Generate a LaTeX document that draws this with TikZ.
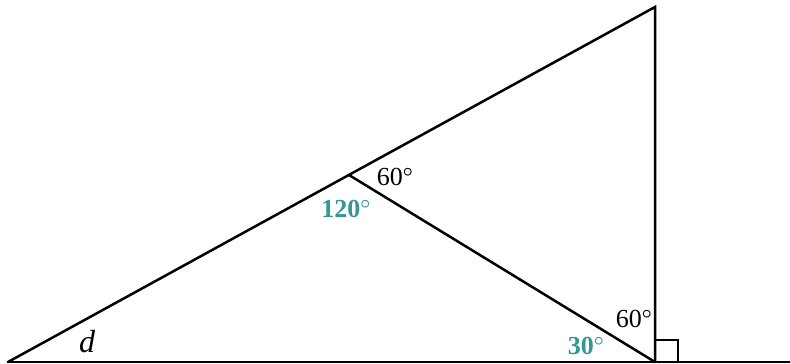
\documentclass[tikz,border=0pt]{standalone}
\usepackage{fontspec}
\setmainfont{Liberation Serif}
\usetikzlibrary{calc}
\definecolor{angleteal}{RGB}{52,150,150}
\newcommand{\degmark}{\textsuperscript{$\boldsymbol{\circ}$}}
\tikzset{
  edge/.style={line width=2.5pt, line cap=round, line join=miter},
  anglelbl/.style={font=\fontsize{26}{30}\selectfont, inner sep=0pt},
  keylbl/.style={anglelbl, font=\fontsize{26}{30}\selectfont\bfseries, text=angleteal}
}
\usepackage{amsmath}
\begin{document}
\begin{tikzpicture}[x=1pt, y=1pt]
  \useasboundingbox (0,0) rectangle (790,364);
  % corners of the figure
  \coordinate (lft) at (8,2);
  \coordinate (top) at (655,357);
  \coordinate (foot) at (655,2);
  \coordinate (mid) at (349,189);
  \coordinate (end) at (790,2);

  \draw[edge] (lft) -- (top) -- (foot);
  \draw[edge] (lft) -- (end);
  \draw[edge] (mid) -- (foot);
  \draw[line width=2.2pt] (foot) rectangle ++(23,22);

  \node[font=\fontsize{32}{36}\selectfont\itshape, inner sep=0pt] (dlbl) at (87,22) {d};
  \node[anglelbl] (topsixty) at (395,187) {60\degmark};
  \node[keylbl] (obtuse) at (346,155) {120\degmark};
  \node[keylbl] (thirty) at (586,18) {30\degmark};
  \node[anglelbl] (footsixty) at (634,45) {60\degmark};
\end{tikzpicture}
\end{document}
